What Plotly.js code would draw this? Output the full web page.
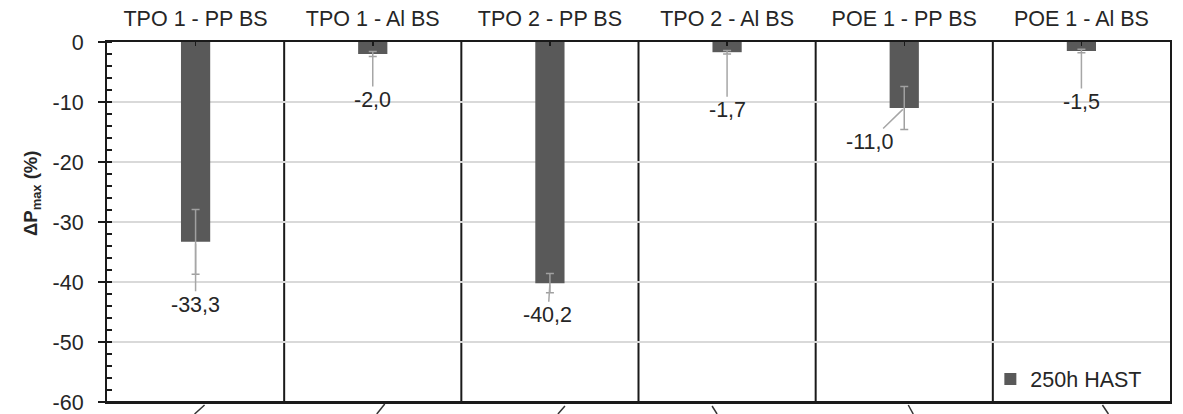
<!DOCTYPE html>
<html>
<head>
<meta charset="utf-8">
<script src="https://cdn.plot.ly/plotly-3.0.1.min.js"></script>
<style>
  html, body { margin: 0; padding: 0; background: #ffffff; overflow: hidden; }
  #chart { width: 1183px; height: 414px; }
</style>
</head>
<body>
<div id="chart"></div>
<script>
// Relative change of maximum power after 250 h HAST, per encapsulant / backsheet combination
const categories = ['TPO 1 - PP BS', 'TPO 1 - Al BS', 'TPO 2 - PP BS', 'TPO 2 - Al BS', 'POE 1 - PP BS', 'POE 1 - Al BS'];
const deltaPmax = [-33.3, -2.0, -40.2, -1.7, -11.0, -1.5];
const deltaPmaxErr = [5.4, 0.4, 1.6, 0.3, 3.6, 0.3];
const seriesName = '250h HAST';
const yTitle = '<b>ΔP<sub>max</sub> (%)</b>';
const yTickValues = [0, -10, -20, -30, -40, -50, -60];
const yTickLabels = ['0', '-10', '-20', '-30', '-40', '-50', '-60'];

// Pixel offsets of each value label from the end of its bar (leader line runs between)
const labelOffsets = [[0, 63], [0, 46], [-2, 32], [0, 58], [-35, 34], [0, 51]];

const FONT = '"Liberation Sans", Arial, sans-serif';
const FS = 21.5;
const TEXT = '#262626';
const LEADER = '#a6a6a6';
const DARK = '#1a1a1a';

const bars = {
  type: 'bar',
  name: seriesName,
  x: categories,
  y: deltaPmax,
  marker: { color: '#595959', line: { width: 0 } },
  error_y: { type: 'data', array: deltaPmaxErr, visible: true, color: '#a0a0a0', thickness: 1.5, width: 4 },
  hoverinfo: 'x+y'
};

const valueLabels = deltaPmax.map((v, i) => ({
  x: categories[i],
  y: v,
  xref: 'x',
  yref: 'y',
  text: v.toFixed(1).replace('.', ','),
  showarrow: true,
  arrowhead: 0,
  arrowwidth: 1.5,
  arrowcolor: LEADER,
  standoff: 2,
  ax: labelOffsets[i][0],
  ay: labelOffsets[i][1],
  font: { family: FONT, size: FS, color: TEXT }
}));

// Value-axis title, rotated and set a little above the axis middle
const yTitleLabel = {
  text: yTitle,
  xref: 'paper', yref: 'paper',
  x: -0.0705, y: 0.578,
  xanchor: 'center', yanchor: 'middle',
  textangle: -90,
  showarrow: false,
  font: { family: FONT, size: 18.5, color: TEXT }
};

// Vertical rules between neighbouring columns
const separators = categories.slice(1).map((c, i) => ({
  type: 'line',
  xref: 'x', yref: 'paper',
  x0: i + 0.5, x1: i + 0.5, y0: 0, y1: 1,
  line: { color: DARK, width: 2 },
  layer: 'below'
}));

// Bottom edge of the frame
const bottomEdge = {
  type: 'line',
  xref: 'paper', yref: 'paper',
  x0: 0, x1: 1, y0: 0, y1: 0,
  line: { color: DARK, width: 2 },
  layer: 'above'
};

// Short leader-line stubs leaving the bottom edge under each column
const stubs = [[-1, -12, 9, -3], [4, -12, 12, -2], [8, -12, 15, -4], [-15, -4, -10, -12], [4, -3, 9, -12], [21, -3, 27, -12]];
const stubShapes = stubs.map((s, i) => ({
  type: 'line',
  xref: 'x', yref: 'paper',
  xsizemode: 'pixel', ysizemode: 'pixel',
  xanchor: i, yanchor: 0,
  x0: s[0], x1: s[2], y0: s[1], y1: s[3],
  line: { color: '#333333', width: 1.5 },
  layer: 'above'
}));

const layout = {
  width: 1183,
  height: 414,
  margin: { l: 107, r: 13, t: 42, b: 12, pad: 0, autoexpand: false },
  paper_bgcolor: '#ffffff',
  plot_bgcolor: '#ffffff',
  font: { family: FONT, size: FS, color: TEXT },
  bargap: 0.835,
  showlegend: true,
  legend: {
    x: 0.831, y: 0.064, xanchor: 'left', yanchor: 'middle',
    bgcolor: 'rgba(0,0,0,0)',
    font: { family: FONT, size: FS, color: TEXT }
  },
  xaxis: {
    type: 'category',
    categoryorder: 'array',
    categoryarray: categories,
    side: 'top',
    range: [-0.5, categories.length - 0.5],
    showline: true, linecolor: DARK, linewidth: 2, mirror: true,
    ticks: 'inside', ticklen: 4, tickwidth: 1.5, tickcolor: DARK,
    ticklabelstandoff: 5,
    automargin: false,
    showgrid: false, zeroline: false,
    tickfont: { family: FONT, size: FS, color: TEXT }
  },
  yaxis: {
    range: [-60, 0],
    tickvals: yTickValues,
    ticktext: yTickLabels,
    ticks: 'outside', ticklen: 7, tickwidth: 1.5, tickcolor: DARK,
    ticklabelstandoff: 10,
    ticklabeloverflow: 'allow',
    automargin: false,
    minor: { tick0: 0, dtick: 2, ticks: 'inside', ticklen: 5, tickwidth: 1.5, tickcolor: DARK, showgrid: false },
    showline: true, linecolor: DARK, linewidth: 2, mirror: true,
    showgrid: true, gridcolor: '#d9d9d9', gridwidth: 1.5,
    zeroline: false,
    tickfont: { family: FONT, size: FS, color: TEXT }
  },
  annotations: valueLabels.concat([yTitleLabel]),
  shapes: separators.concat([bottomEdge], stubShapes)
};

Plotly.newPlot('chart', [bars], layout, { displayModeBar: false, staticPlot: true });
</script>
</body>
</html>
